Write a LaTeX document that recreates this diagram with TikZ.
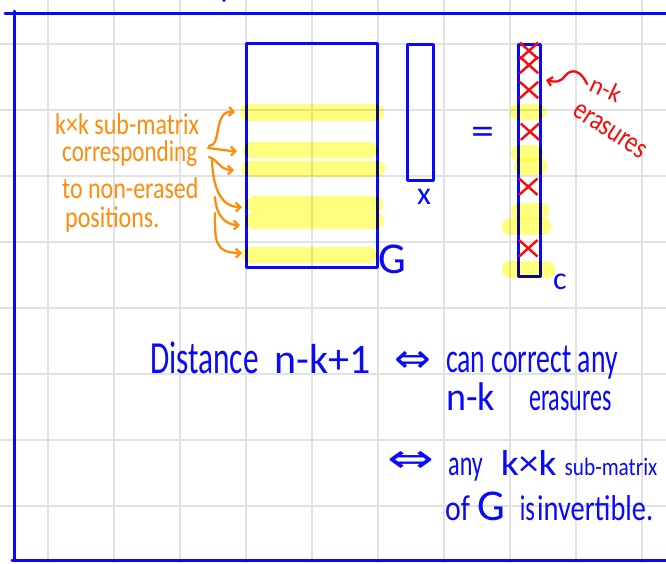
\documentclass[tikz,border=0pt]{standalone}
\usepackage{fontspec}
\setmainfont{Carlito}
\newfontfamily\symfont{DejaVu Sans}
\usepackage{graphicx}
\usetikzlibrary{arrows.meta,shapes.misc}
\definecolor{inkblue}{RGB}{10,10,250}
\definecolor{inkorange}{RGB}{255,140,10}
\definecolor{inkred}{RGB}{250,10,10}
\definecolor{hlyellow}{RGB}{255,255,125}
\definecolor{gridgray}{RGB}{226,226,226}
\newcommand{\hw}[3]{\scalebox{#1}[1]{\fontsize{#2}{#2}\selectfont #3}}
\begin{document}
\begin{tikzpicture}[x=1pt,y=-1pt,
  gridline/.style={gridgray,line width=1.5pt},
  frameline/.style={inkblue,line width=3pt,line cap=round},
  matbox/.style={draw=inkblue,line width=3pt,inner sep=0pt,line join=round},
  hilite/.style={hlyellow,line width=16.5pt,line cap=round},
  erasure/.style={cross out,draw=inkred,line width=2.4pt,minimum width=16pt,minimum height=14pt,inner sep=0pt},
  bluetext/.style={text=inkblue,inner sep=0pt},
  orangetext/.style={text=inkorange,inner sep=0pt,anchor=base west},
  redtext/.style={text=inkred,inner sep=0pt},
  orangearrow/.style={draw=inkorange,line width=2.3pt,line cap=round,-{Straight Barb[length=4.5pt,width=9pt]}},
  redarrow/.style={draw=inkred,line width=2.3pt,line cap=round,-{Straight Barb[length=4.5pt,width=9pt]}}
]
\useasboundingbox (0,0) rectangle (666,563);
\fill[white] (0,0) rectangle (666,563);
% grid
\foreach \gx in {48,114,...,642} \draw[gridline] (\gx,0) -- (\gx,563);
\foreach \gy in {44,110,...,506} \draw[gridline] (0,\gy) -- (666,\gy);
% frame
\draw[frameline] (5,13) -- (666,13);
\draw[frameline] (14,11) -- (14,560);
\draw[frameline] (12,560) -- (666,560);
\fill[inkblue] (224,0.5) circle (1.6pt);
% matrices
\node[matbox,minimum width=131pt,minimum height=224pt] (G) at (312.2,155.8) {};
\node[matbox,minimum width=25.6pt,minimum height=136pt] (xv) at (420.5,112) {};
\node[matbox,minimum width=21.7pt,minimum height=231.7pt] (cv) at (529.2,160.8) {};
% highlights
\begin{scope}[blend mode=multiply]
\draw[hilite] (248,112.3) -- (376,112.3);
\draw[hilite] (251,150) -- (370,150);
\draw[hilite] (249,169) -- (377,169);
\draw[hilite] (254,204.7) -- (375,204.7);
\draw[hilite] (253,220.8) -- (376,220.8);
\draw[hilite] (250,255) -- (369,255);
\draw[hilite] (518,112) -- (538,112);
\draw[hilite] (519,153) -- (535,153);
\draw[hilite] (522,166.5) -- (539,166.5);
\draw[hilite] (519,211) -- (541,211);
\draw[hilite] (510,226.7) -- (543,226.7);
\draw[hilite] (510,269.5) -- (547,269.5);
\end{scope}
% erasures
\node[erasure] (e1) at (529,50.7) {};
\node[erasure] (e2) at (529,65) {};
\node[erasure] (e3) at (529,90) {};
\node[erasure] (e4) at (530,131.7) {};
\node[erasure] (e5) at (528.3,186.7) {};
\node[erasure] (e6) at (528.3,248.3) {};
% labels of matrices
\node[bluetext] (Glab) at (392,259) {\fontsize{44}{44}\selectfont G};
\node[bluetext] (xlab) at (424,197) {\fontsize{32}{32}\selectfont x};
\node[bluetext] (clab) at (560,282) {\fontsize{32}{32}\selectfont c};
\node[bluetext] (eq) at (482.5,135.5) {\hw{1.15}{40}{=}};
% red annotation
\node[redtext,rotate=-25] (nk) at (606,89) {\hw{1}{25}{n-k}};
\node[redtext,rotate=-33] (eras) at (610,131) {\hw{0.8}{30}{erasures}};
\coordinate (rs) at (587,84);
\coordinate (rt) at (546,80);
\draw[redarrow] (rs) .. controls (581,70) and (571,68) .. (565,76) .. controls (560,83) and (554,82) .. (rt);
% orange annotation
\node[orangetext] (o1) at (55,134) {\hw{0.8}{30}{k×k sub-matrix}};
\node[orangetext] (o2) at (62,161) {\hw{0.77}{30}{corresponding}};
\node[orangetext] (o3) at (62,198) {\hw{0.8}{30}{to non-erased}};
\node[orangetext] (o4) at (65,227) {\hw{0.8}{30}{positions.}};
\coordinate (a1s) at (209,146);
\coordinate (a1t) at (235,112);
\coordinate (a2s) at (208,148);
\coordinate (a2t) at (237,151);
\coordinate (a3s) at (209,157);
\coordinate (a3t) at (234,170);
\coordinate (a4s) at (212,160);
\coordinate (a4t) at (242,207);
\coordinate (a5s) at (215,197);
\coordinate (a5t) at (240,225);
\coordinate (a6s) at (215,213);
\coordinate (a6t) at (242,253);
\draw[orangearrow] (a1s) .. controls (222,146) and (213,110) .. (a1t);
\draw[orangearrow] (a2s) .. controls (218,149) and (228,151) .. (a2t);
\draw[orangearrow] (a3s) .. controls (218,160) and (220,170) .. (a3t);
\draw[orangearrow] (a4s) .. controls (213,190) and (222,207) .. (a4t);
\draw[orangearrow] (a5s) .. controls (216,216) and (226,225) .. (a5t);
\draw[orangearrow] (a6s) .. controls (215,240) and (214,253) .. (a6t);
% blue statement
\node[bluetext,anchor=base west] (dist) at (150,373) {\hw{0.68}{46}{Distance}\hspace{16pt}\hw{1}{42}{n-k+1}};
\node[bluetext] (iff1) at (413,362) {\hw{1.1}{40}{\symfont ⇔}};
\node[bluetext,anchor=base west] (corr1) at (446,372) {\hw{0.66}{42}{can correct any}};
\node[bluetext,anchor=base west] (corr2) at (446,410) {\hw{0.95}{40}{n-k}\hspace{34pt}\hw{0.6}{40}{erasures}};
\node[bluetext] (iff2) at (411,462) {\hw{1.4}{40}{\symfont ⇔}};
\node[bluetext,anchor=base west] (inv1) at (448,475) {\hw{0.67}{36}{any}\hspace{18pt}\hw{1.1}{36}{k×k}\hspace{8pt}\hw{0.85}{25}{sub-matrix}};
\node[bluetext,anchor=base west] (inv2) at (445,520) {\hw{0.83}{36}{of}\hspace{7pt}\hw{1}{44}{G}\hspace{15pt}\hw{0.68}{36}{is}\hspace{2pt}\hw{0.79}{36}{invertible.}};
\end{tikzpicture}
\end{document}
